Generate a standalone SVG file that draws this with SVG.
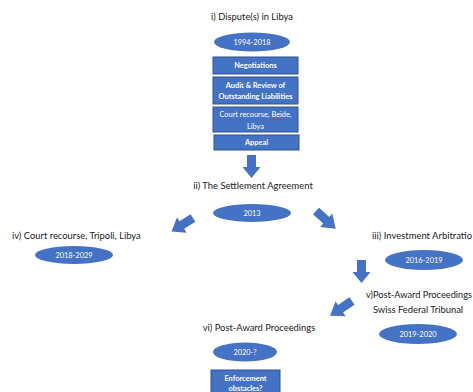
<svg xmlns="http://www.w3.org/2000/svg" width="473" height="392" viewBox="0 0 473 392">
<defs>
<style>
.t{font-family:Lato,"Open Sans",sans-serif;font-size:9.4px;fill:#222;}
.w{font-family:Lato,"Open Sans",sans-serif;font-size:7.4px;fill:#fff;text-anchor:middle;}
.e{fill:#4472C4;}
.b{fill:#4472C4;stroke:#2F528F;stroke-width:1;}
.a{fill:#4472C4;}
</style>
<path id="arr" d="M0,-4.5 L12,-4.5 L12,-9 L23,0 L12,9 L12,4.5 L0,4.5 Z"/>
</defs>
<rect width="473" height="392" fill="#fff"/>
<g id="n1">
<text class="t" x="252" y="20" text-anchor="middle">i) Dispute(s) in Libya</text>
<ellipse class="e" cx="252" cy="42" rx="38" ry="9.5"/>
<text class="w" x="252" y="44.5">1994-2018</text>
</g>
<g id="n1a">
<rect class="b" x="213" y="57" width="85" height="17"/>
<text class="w" x="255.5" y="68" font-weight="bold">Negotiations</text>
</g>
<g id="n1b">
<rect class="b" x="213" y="77" width="85" height="27"/>
<text class="w" x="255.5" y="87.5" font-weight="bold">Audit &amp; Review of</text>
<text class="w" x="255.5" y="98.5" font-weight="bold">Outstanding Liabilities</text>
</g>
<g id="n1c">
<rect class="b" x="213" y="107" width="85" height="25"/>
<text class="w" x="255.5" y="117">Court recourse, Beide,</text>
<path d="M269,119.5 q1,-1 2,0 t2,0 t2,0 t2,0 t2,0 t2,0 t2,0" fill="none" stroke="#e03030" stroke-width="0.7"/>
<text class="w" x="255.5" y="128.5">Libya</text>
</g>
<g id="n1d">
<rect class="b" x="214" y="135" width="85" height="15"/>
<text class="w" x="256.5" y="145" font-weight="bold">Appeal</text>
</g>
<g id="n2">
<text class="t" x="253" y="189" text-anchor="middle">ii) The Settlement Agreement</text>
<ellipse class="e" cx="252" cy="213" rx="39" ry="9"/>
<text class="w" x="252" y="215.5">2013</text>
</g>
<g id="n3">
<text class="t" x="372" y="239" textLength="100" lengthAdjust="spacingAndGlyphs">iii) Investment Arbitratio</text>
<ellipse class="e" cx="424" cy="260" rx="39" ry="10"/>
<text class="w" x="424" y="262.5">2016-2019</text>
</g>
<g id="n4">
<text class="t" x="12" y="239">iv) Court recourse, Tripoli, Libya</text>
<ellipse class="e" cx="74" cy="255" rx="39" ry="9"/>
<text class="w" x="74" y="257.5">2018-2029</text>
</g>
<g id="n5">
<text class="t" x="366" y="298" textLength="106" lengthAdjust="spacingAndGlyphs">v)Post-Award Proceedings</text>
<text class="t" x="418" y="313" text-anchor="middle">Swiss Federal Tribunal</text>
<ellipse class="e" cx="418" cy="334" rx="39" ry="10"/>
<text class="w" x="418" y="336.5">2019-2020</text>
</g>
<g id="n6">
<text class="t" x="259" y="331" text-anchor="middle">vi) Post-Award Proceedings</text>
<ellipse class="e" cx="245" cy="352" rx="32" ry="9.5"/>
<text class="w" x="245" y="354.5">2020-?</text>
</g>
<g id="n6a">
<rect class="b" x="211" y="370" width="69" height="30"/>
<text class="w" x="245.5" y="381" font-weight="bold">Enforcement</text>
<text class="w" x="245.5" y="390.5" font-weight="bold">obstacles?</text>
</g>
<g id="connectors">
<use href="#arr" class="a" transform="translate(251.5,155) rotate(90)"/>
<use href="#arr" class="a" transform="translate(193,218) rotate(148) scale(1.1,1)"/>
<use href="#arr" class="a" transform="translate(316,211) rotate(42) scale(1.15,1)"/>
<use href="#arr" class="a" transform="translate(361.5,260) rotate(90)"/>
<use href="#arr" class="a" transform="translate(352,301) rotate(146) scale(1.15,1)"/>
</g>
</svg>
